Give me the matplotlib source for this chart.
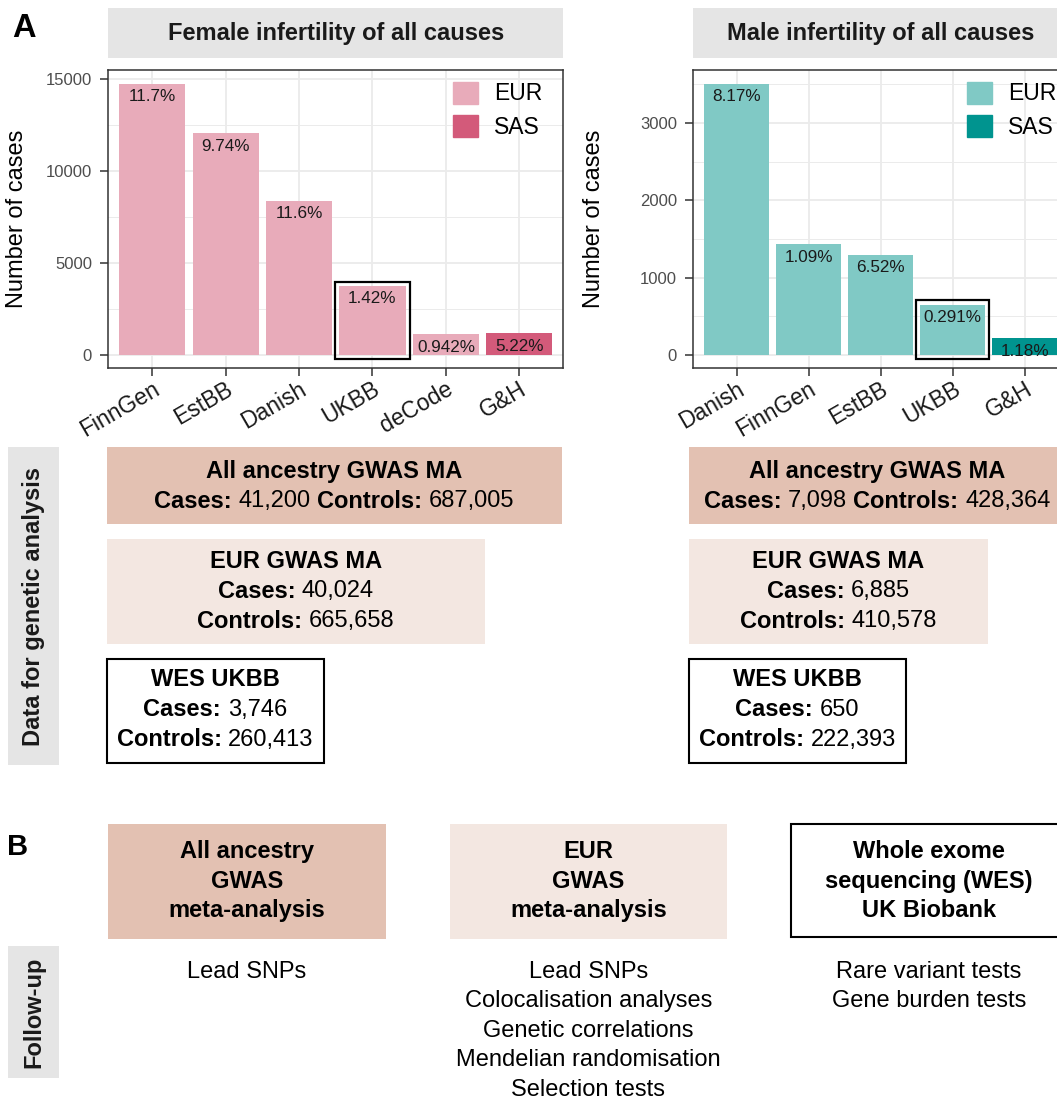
import matplotlib
matplotlib.use("Agg")
import matplotlib.pyplot as plt
from matplotlib.patches import Rectangle, Patch
from matplotlib.ticker import MultipleLocator
from matplotlib.transforms import ScaledTranslation

plt.rcParams['font.family'] = ['Liberation Sans', 'DejaVu Sans']

# ---- data ----
female_cohorts = ["FinnGen", "EstBB", "Danish", "UKBB", "deCode", "G&H"]
female_cases = [14750, 12050, 8370, 3746, 1108, 1176]
female_pct = ["11.7%", "9.74%", "11.6%", "1.42%", "0.942%", "5.22%"]
female_anc = ["EUR", "EUR", "EUR", "EUR", "EUR", "SAS"]

male_cohorts = ["Danish", "FinnGen", "EstBB", "UKBB", "G&H"]
male_cases = [3512, 1430, 1293, 650, 213]
male_pct = ["8.17%", "1.09%", "6.52%", "0.291%", "1.18%"]
male_anc = ["EUR", "EUR", "EUR", "EUR", "SAS"]

female_colors = {"EUR": "#E8ABBA", "SAS": "#D35A7A"}
male_colors = {"EUR": "#80C9C5", "SAS": "#00948F"}

# cases / controls for the genetic analysis boxes
female_all = ["41,200", "687,005"]
female_eur = ["40,024", "665,658"]
female_wes = ["3,746", "260,413"]
male_all = ["7,098", "428,364"]
male_eur = ["6,885", "410,578"]
male_wes = ["650", "222,393"]

followup_titles = [["All ancestry", "GWAS", "meta-analysis"],
                   ["EUR", "GWAS", "meta-analysis"],
                   ["Whole exome", "sequencing (WES)", "UK Biobank"]]
followup_items = [["Lead SNPs"],
                  ["Lead SNPs", "Colocalisation analyses", "Genetic correlations",
                   "Mendelian randomisation", "Selection tests"],
                  ["Rare variant tests", "Gene burden tests"]]

TAN = "#E3C1B2"
LIGHT = "#F3E7E1"
STRIP = "#E5E5E5"

W, H = 1057, 1100
fig = plt.figure(figsize=(W / 100, H / 100), dpi=100)

# overlay in pixel coordinates for boxes and labels
bg = fig.add_axes([0, 0, 1, 1])
bg.set_xlim(0, W)
bg.set_ylim(H, 0)
bg.axis('off')


def px_axes(x0, y0, x1, y1):
    return fig.add_axes([x0 / W, 1 - y1 / H, (x1 - x0) / W, (y1 - y0) / H])


def bar_panel(box, title, cohorts, cases, pct, anc, colors, step, leg_right, ylab_x):
    x0, y0, x1, y1 = box
    ax = px_axes(x0, y0, x1, y1)
    ymax = max(cases)
    idx = range(len(cohorts))
    ax.bar(idx, cases, width=0.9, color=[colors[a] for a in anc], zorder=2)
    for i, (h, p) in enumerate(zip(cases, pct)):
        ax.annotate(p, (i, h), xytext=(0, -4), textcoords='offset points',
                    ha='center', va='top', fontsize=12.3, color='#1A1A1A', zorder=4)
    k = cohorts.index("UKBB")
    pad = 0.015 * ymax
    ax.add_patch(Rectangle((k - 0.51, -pad), 1.02, cases[k] + 2 * pad, fill=False,
                           ec='black', lw=1.6, zorder=3, clip_on=False))
    ax.set_xlim(-0.6, len(cohorts) - 0.4)
    ax.set_ylim(-0.05 * ymax, 1.05 * ymax)
    ax.set_xticks(list(idx))
    ax.set_xticklabels(cohorts, rotation=30, ha='right', rotation_mode='anchor',
                       fontsize=16.5, color='#1A1A1A')
    shift = ScaledTranslation(6 / 100, 0, fig.dpi_scale_trans)
    for lab in ax.get_xticklabels():
        lab.set_transform(lab.get_transform() + shift)
    ax.yaxis.set_major_locator(MultipleLocator(step))
    ax.yaxis.set_minor_locator(MultipleLocator(step / 2))
    ax.tick_params(axis='y', which='major', labelsize=12, labelcolor='#4D4D4D',
                   length=5.8, width=1.1, color='#333333', pad=6)
    ax.tick_params(axis='x', length=5.8, width=1.1, color='#333333', pad=1)
    ax.tick_params(which='minor', length=0)
    ax.grid(True, which='major', color='#EBEBEB', lw=1.3, zorder=0)
    ax.grid(True, which='minor', axis='y', color='#EBEBEB', lw=0.7, zorder=0)
    ax.set_axisbelow(True)
    for s in ax.spines.values():
        s.set_color('#333333')
        s.set_linewidth(1.1)
    ax.set_ylabel("Number of cases", fontsize=17, color='black')
    ax.yaxis.set_label_coords((ylab_x - x0) / (x1 - x0), 0.5)
    handles = [Patch(color=colors["EUR"], label="EUR"), Patch(color=colors["SAS"], label="SAS")]
    ax.legend(handles=handles, loc='upper right', frameon=False, fontsize=16.5,
              bbox_to_anchor=((leg_right - x0) / (x1 - x0), (y1 - 81.7) / (y1 - y0)),
              borderpad=0, borderaxespad=0, handlelength=1.09, handleheight=1.09,
              labelspacing=0.43, handletextpad=0.7)
    # facet strip
    bg.add_patch(Rectangle((x0, 8.3), x1 - x0, 50, color=STRIP, lw=0))
    bg.text((x0 + x1) / 2, 33.3, title, fontsize=17, fontweight='bold',
            ha='center', va='center', color='#1A1A1A')
    return ax


bar_panel((108.3, 70, 563.3, 368.3), "Female infertility of all causes",
          female_cohorts, female_cases, female_pct, female_anc, female_colors,
          5000, 542.5, 28)
bar_panel((693.3, 70, 1068, 368.3), "Male infertility of all causes",
          male_cohorts, male_cases, male_pct, male_anc, male_colors,
          1000, 1056, 605.5)

renderer = fig.canvas.get_renderer()


def rich(xc, yc, parts, size=17):
    # centered line of text made of bold / normal pieces
    sp = size / 72 * 100 * 0.278
    ts = [bg.text(0, yc, s, fontsize=size, fontweight=w, ha='left', va='center',
                  color='black') for s, w in parts]
    ws = [t.get_window_extent(renderer).width for t in ts]
    x = xc - (sum(ws) + sp * (len(ts) - 1)) / 2
    for t, w in zip(ts, ws):
        t.set_x(x)
        x += w + sp


def data_boxes(left, all_vals, eur_vals, wes_vals, right_all, right_eur, right_wes):
    bg.add_patch(Rectangle((left, 446.7), right_all - left, 77.5, color=TAN, lw=0))
    c = (left + right_all) / 2
    rich(c, 471.5, [("All ancestry GWAS MA", 'bold')])
    rich(c, 501.5, [("Cases:", 'bold'), (all_vals[0], 'normal'),
                    ("Controls:", 'bold'), (all_vals[1], 'normal')])
    bg.add_patch(Rectangle((left, 539), right_eur - left, 104.5, color=LIGHT, lw=0))
    c = (left + right_eur) / 2
    rich(c, 561.5, [("EUR GWAS MA", 'bold')])
    rich(c, 591.5, [("Cases:", 'bold'), (eur_vals[0], 'normal')])
    rich(c, 621, [("Controls:", 'bold'), (eur_vals[1], 'normal')])
    bg.add_patch(Rectangle((left, 658.5), right_wes - left, 104, fc='white',
                           ec='black', lw=1.5))
    c = (left + right_wes) / 2
    rich(c, 680, [("WES UKBB", 'bold')])
    rich(c, 710, [("Cases:", 'bold'), (wes_vals[0], 'normal')])
    rich(c, 740, [("Controls:", 'bold'), (wes_vals[1], 'normal')])


data_boxes(106.7, female_all, female_eur, female_wes, 562, 485, 323.7)
data_boxes(689, male_all, male_eur, male_wes, 1065, 987.8, 905.6)

# side strips
bg.add_patch(Rectangle((8, 446.7), 51, 318.3, color=STRIP, lw=0))
bg.text(33.5, 606, "Data for genetic analysis", rotation=90, fontsize=17,
        fontweight='bold', ha='center', va='center', color='#1A1A1A')
bg.add_patch(Rectangle((8, 945.7), 51, 132.6, color=STRIP, lw=0))
bg.text(33.5, 1012, "Follow-up", rotation=90, fontsize=17,
        fontweight='bold', ha='center', va='center', color='#1A1A1A')

# panel letters
bg.text(12, 37, "A", fontsize=23.5, fontweight='bold', ha='left', va='baseline')
bg.text(7, 855, "B", fontsize=21, fontweight='bold', ha='left', va='baseline')

# panel B boxes
b_boxes = [(108, 385.7, TAN, None), (449.8, 727, LIGHT, None), (791, 1067, 'white', 'black')]
for (x0, x1, fc, ec), titles, items in zip(b_boxes, followup_titles, followup_items):
    if ec:
        bg.add_patch(Rectangle((x0, 824), x1 - x0, 113, fc=fc, ec=ec, lw=1.5))
    else:
        bg.add_patch(Rectangle((x0, 824.3), x1 - x0, 115, color=fc, lw=0))
    c = (x0 + x1) / 2
    for j, t in enumerate(titles):
        bg.text(c, 851.7 + 29.5 * j, t, fontsize=17, fontweight='bold',
                ha='center', va='center')
    for j, t in enumerate(items):
        bg.text(c, 971.7 + 29.6 * j, t, fontsize=17, ha='center', va='center')

fig.savefig("out.png", dpi=100)
